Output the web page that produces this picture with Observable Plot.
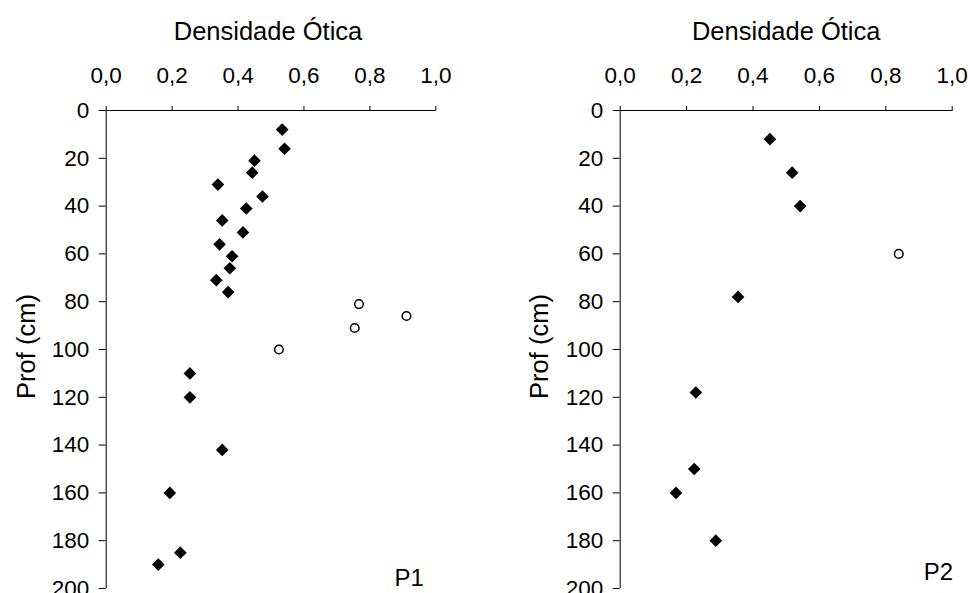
<!DOCTYPE html>
<html>
<head>
<meta charset="utf-8">
<script src="https://cdn.jsdelivr.net/npm/d3@7"></script>
<script src="https://cdn.jsdelivr.net/npm/@observablehq/plot@0.6"></script>
<style>
  body { margin: 0; background: #fff; }
  #charts { display: flex; width: 970px; height: 593px; overflow: hidden; }
  #charts svg { flex: none; }
</style>
</head>
<body>
<div id="charts"></div>
<script>
// Optical density profiles versus depth for two soil profiles (P1, P2)
const xTicks = [0, 0.2, 0.4, 0.6, 0.8, 1.0];
const yTicks = [0, 20, 40, 60, 80, 100, 120, 140, 160, 180, 200];

// P1 – regular samples (filled diamonds)
const p1Depth = [8, 16, 21, 26, 31, 36, 41, 46, 51, 56, 61, 66, 71, 76, 110, 120, 142, 160, 185, 190];
const p1Density = [0.534, 0.541, 0.450, 0.443, 0.339, 0.474, 0.425, 0.352, 0.415, 0.344, 0.382, 0.375, 0.334, 0.370, 0.254, 0.254, 0.352, 0.193, 0.225, 0.158];
// P1 – highlighted samples (open circles)
const p1OpenDepth = [81, 86, 91, 100];
const p1OpenDensity = [0.767, 0.911, 0.754, 0.524];

// P2 – regular samples
const p2Depth = [12, 26, 40, 78, 118, 150, 160, 180];
const p2Density = [0.451, 0.518, 0.542, 0.355, 0.228, 0.223, 0.168, 0.288];
// P2 – highlighted sample
const p2OpenDepth = [60];
const p2OpenDensity = [0.839];

const toRows = (depth, dens) => depth.map((d, i) => ({depth: d, density: dens[i]}));
const fmtComma = d => d.toFixed(1).replace(".", ",");
const FONT = "'Liberation Sans', Arial, Helvetica, sans-serif";

function panel({name, filled, open, marginLeft, marginRight, titleDx, profDx, nameDx, nameDy}) {
  return Plot.plot({
    width: 485,
    height: 593,
    marginTop: 110,
    marginBottom: 5,
    marginLeft,
    marginRight,
    style: {fontFamily: FONT, fontSize: "22px", color: "#000", background: "#fff", overflow: "visible"},
    x: {domain: [0, 1]},
    y: {domain: [0, 200], reverse: true},
    marks: [
      Plot.ruleY([0], {x1: 0, x2: 1, stroke: "#000"}),
      Plot.ruleX([0], {y1: 0, y2: 200, stroke: "#000"}),
      Plot.axisX({anchor: "top", ticks: xTicks, tickSize: 5, tickPadding: 23, tickFormat: fmtComma, label: null, fontSize: 22.5}),
      Plot.axisY({anchor: "left", ticks: yTicks, tickSize: 7, tickPadding: 10, label: null, fontSize: 22.5}),
      Plot.dot(filled, {x: "density", y: "depth", symbol: "diamond2", r: 5.7, fill: "#000", stroke: "none"}),
      Plot.dot(open, {x: "density", y: "depth", symbol: "circle", r: 4.3, fill: "#fff", stroke: "#000", strokeWidth: 1.5}),
      Plot.text(["Densidade Ótica"], {frameAnchor: "top", textAnchor: "middle", lineAnchor: "bottom", dx: titleDx, dy: -71, fontSize: 25.5}),
      Plot.text(["Prof (cm)"], {frameAnchor: "left", textAnchor: "middle", rotate: -90, lineAnchor: "bottom", dx: profDx, dy: -3, fontSize: 25.5}),
      Plot.text([name], {frameAnchor: "bottom-right", textAnchor: "end", lineAnchor: "bottom", dx: nameDx, dy: nameDy, fontSize: 24})
    ]
  });
}

const host = document.getElementById("charts");
host.append(panel({
  name: "P1",
  filled: toRows(p1Depth, p1Density),
  open: toRows(p1OpenDepth, p1OpenDensity),
  marginLeft: 105.7, marginRight: 49.7,
  titleDx: -3, profDx: -71, nameDx: -12, nameDy: -3
}));
host.append(panel({
  name: "P2",
  filled: toRows(p2Depth, p2Density),
  open: toRows(p2OpenDepth, p2OpenDensity),
  marginLeft: 134.7, marginRight: 18.3,
  titleDx: 0, profDx: -72, nameDx: 1, nameDy: -9
}));
</script>
</body>
</html>
